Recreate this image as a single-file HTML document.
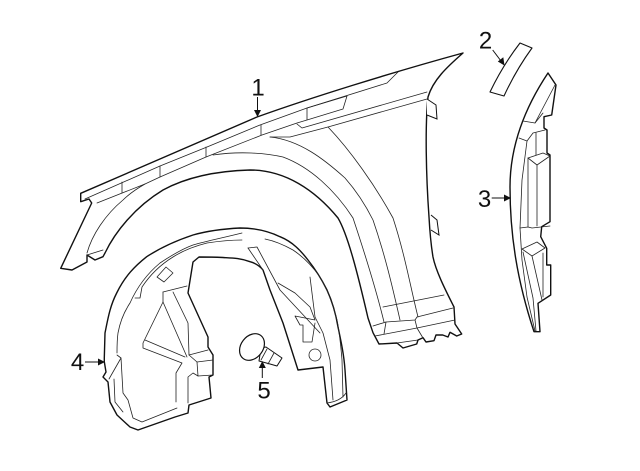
<!DOCTYPE html>
<html><head><meta charset="utf-8"><style>
html,body{margin:0;padding:0;background:#fff;width:640px;height:471px;overflow:hidden}
svg{display:block}
text{font-family:"Liberation Sans",sans-serif;font-size:24px;fill:#111}
.o{fill:#fff;stroke:#111;stroke-width:1.4;stroke-linejoin:round;stroke-linecap:round}
.i{fill:none;stroke:#222;stroke-width:.8;stroke-linejoin:round;stroke-linecap:round}
.l{fill:none;stroke:#111;stroke-width:1}
.h{fill:#111;stroke:none}
</style></head><body>
<svg width="640" height="471" viewBox="0 0 640 471">
<!-- fender -->
<path class="o" d="M60.700 268.300L91.700 203L89 199L80.700 201.700L80.700 193.300L257 117C310 98 390 73 463 53C447 67 433 80 428 97C425 125 426 175 429 217C430 235 431 245 433 257C436 272 447 293 454 307L455 324L461.700 334L456.700 336L450 332.300L448 337L442.700 335L436 335L434 340.700L426 342L423 337.700L418 340L416.700 344L403 348L397 343L379 344L373 332.700L368 318C358 275 348 235 338 218C315 190 285 170 250 170C215 171 185 178 163 190C135 207 115 232 105 253L103 256.700L95 260L87 255L87 262L72 270Z"/>
<g class="i">
<path d="M85 199L160 166L207 147L260 125L307 108L387 83L398 72"/>
<path d="M97 203L145 184L160 177L206 157L262 135L297 123L307 120L343 109L347 96L307 108V120"/>
<path d="M122 182V193"/><path d="M160 166V177"/><path d="M206 147V157"/><path d="M261 125V135"/>
<path d="M297 124L302 128L427 92"/>
<path d="M270 137H290L328 127L427 99"/>
<path d="M87 253C92 235 105 215 123 200C130 193 138 188 145 184"/>
<path d="M87 255L103 250"/>
<path d="M213 155C240 151 265 153 283 157C310 167 335 190 353 218C362 245 375 285 384 322"/>
<path d="M270 137C300 140 325 160 345 178C360 195 368 210 373 220C385 255 392 285 400 320"/>
<path d="M328 127C350 150 375 185 393 218C405 255 410 285 418 317"/>
<path d="M383 307L444 295"/>
<path d="M373 326L386 322L415 320L417 317L453 308"/>
<path d="M375 336L417 328L455 320"/>
<path d="M386 322L384 334"/>
<path d="M415 320L417 328L423 338"/>
<path d="M397 343L418 340"/>
</g>
<path d="M427 99L436 105L437 119L427 115" fill="#fff" stroke="#111" stroke-width="1"/>
<path d="M431 215L437 220L439 235L431 230" fill="#fff" stroke="#111" stroke-width="1"/>
<!-- liner -->
<path class="o" d="M104.300 358L105 333C108 318 110 306 116.700 293C125 276 135 266 146.700 256.700C160 248 178 240 193 235C207 231 220 229 240 228C255 228 268 231 280 236.700C293 242 301 251 308 260C316 270 322 280 327 290C333 303 336 315 338 327C341 341 344 355 345 370L347 400L330 407L327 403L323 367L298 370L283 323L270 290L263 270C259 265 255 263 250 261.700C240 258 232 258 223 257.500C212 257 205 257 199 257L193 262L188 293L208 337L208 347L213 355L213 375L209 377L211 398L189 405L188 413L175 417L138 430L130 427L117 415L110 402L108 382L103 377L106 372L104.300 361.700Z"/>
<g class="i">
<path d="M117 353C117 340 118 333 118 333C120 322 124 312 130 303C138 285 148 273 160 263C172 255 182 249 193 245C207 241 222 238 242 233"/>
<path d="M135 298H140L142 287C150 275 160 265 173 257C184 250 195 246 207 243C220 241 230 240 242 240"/>
<path d="M157 277L166 267L173 273L164 282Z"/>
<path d="M163 292L187 286"/>
<path d="M163 292V302L143 343V348L182 363L176 373V402"/>
<path d="M145 340L185 357"/>
<path d="M163 302L187 357"/>
<path d="M173 292L188 323L189 355L208 350"/>
<path d="M189 355L197 362L213 360"/>
<path d="M197 362L198 376L213 375"/>
<path d="M198 376L193 373L188 377V403"/>
<path d="M117 355L121 358L109 379"/>
<path d="M121 358L123 393L128 400L133 418L142 422L177 408"/>
<path d="M114 379L115 402L123 412"/>
<path d="M248 248L257 247L280 290L320 333"/>
<path d="M248 248L263 270"/>
<path d="M265 239C275 241 284 245 293 250C305 258 313 267 320 277C328 290 333 305 337 320C340 335 341 348 342 360L343 397"/>
<path d="M310 277L315 317L323 333L330 360L333 400"/>
<path d="M278 283L295 293L310 307L315 320L295 316L300 325H303V342H312L315 323"/>
<path d="M327 403C335 402 342 399 346 393"/>
<circle cx="315" cy="355" r="6"/>
</g>
<!-- clip -->
<path d="M261 348L266 347L282 358L277 366L270 364L259 361Z" fill="#fff" stroke="#111" stroke-width="1" stroke-linejoin="round"/>
<path class="i" d="M267 349L261 360M274 353L268 364"/>
<ellipse cx="252" cy="347" rx="14.500" ry="11" transform="rotate(-52 252 347)" fill="#fff" stroke="#111" stroke-width="1.200"/>
<!-- part 2 -->
<path d="M520 43L532 48Q516 70 504 96L490 92Q503 65 520 43Z" fill="#fff" stroke="#111" stroke-width="1.100" stroke-linejoin="round"/>
<!-- part 3 -->
<path class="o" d="M548 73L556 85L551.700 115L544 116.700V128L547 130V153L550 155V221.700L541.700 226.700L540.700 236.700L546.700 248.300V265H550.700V295L538 303.300L540 331.700H534C517 280 510 235 510 187C510 140 530 100 548 73Z"/>
<g class="i">
<path d="M523 121L535 123L555 85"/><path d="M535 123L543 113"/>
<path d="M519 138L527 141L533 133L545 130"/>
<path d="M527 141L522 180L520 228L522 260L527 297L535 331"/>
<path d="M536 133V155"/>
<path d="M528 158L543 153L550 156"/>
<path d="M528 158L537 165L550 156"/>
<path d="M528 158V227"/>
<path d="M537 165V226"/>
<path d="M520 228L528 227L532 228L550 226"/>
<path d="M522 249L537 242L545 248L532 256Z"/>
<path d="M532 256L542 300"/>
<path d="M523 252L533 298L536 331"/>
<path d="M543 253V297"/>
</g>
<!-- labels and arrows -->
<text x="258" y="95.500" text-anchor="middle">1</text>
<text x="485.500" y="48.500" text-anchor="middle">2</text>
<text x="484.500" y="207" text-anchor="middle">3</text>
<text x="77.500" y="370" text-anchor="middle">4</text>
<text x="264" y="398.500" text-anchor="middle">5</text>
<path class="l" d="M257.500 97V112"/><path class="h" d="M257.500 117L254 110H261Z"/>
<path class="l" d="M492.700 50L501 61"/><path class="h" d="M504.500 65.500L497.800 61.500L503.300 57.300Z"/>
<path class="l" d="M491.700 198H505"/><path class="h" d="M511 198L504 194.500V201.500Z"/>
<path class="l" d="M85 362H99"/><path class="h" d="M105 362L98 358.500V365.500Z"/>
<path class="l" d="M262.300 378V367"/><path class="h" d="M262.300 361L258.800 368H265.800Z"/>
</svg>
</body></html>
